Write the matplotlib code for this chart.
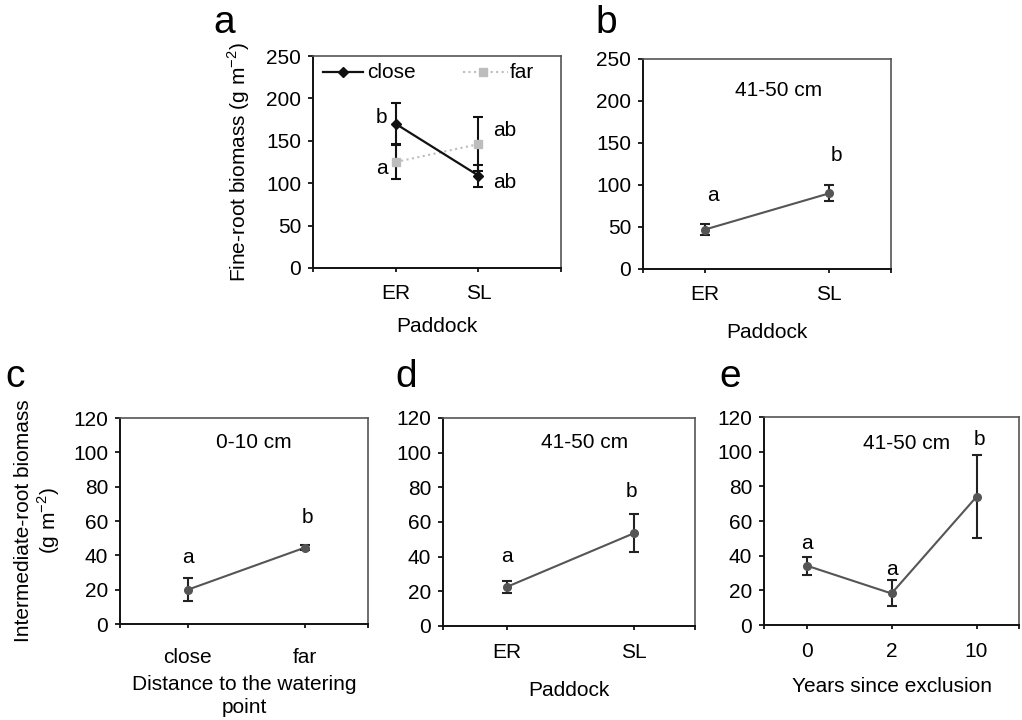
import matplotlib.pyplot as plt

plt.rcParams['font.family'] = ['Liberation Sans', 'DejaVu Sans']
plt.rcParams['font.size'] = 15

# panel a: fine roots, close vs far by paddock
paddock = ['ER', 'SL']
a_close = [170, 109]
a_close_err = [24, 13]
a_far = [125, 146]
a_far_err = [19.5, 32]

# panel b
b_vals = [47, 90]
b_err = [7, 9.5]

# panel c
distance = ['close', 'far']
c_vals = [20, 44.5]
c_err = [6.7, 1.5]

# panel d
d_vals = [22.5, 53.5]
d_err = [3.7, 11]

# panel e
years = ['0', '2', '10']
e_vals = [34.3, 18.2, 74]
e_err = [5.2, 7.5, 24]

line_col = '#555555'
err_col = '#222222'
unit = 'g m$^{\\mathregular{-2}}$'

fig = plt.figure(figsize=(10.22, 7.2), dpi=100)


def style(ax, ymax, ystep, xlim, cats, xpad=8.5):
    ax.set_ylim(0, ymax)
    ax.set_yticks(range(0, ymax + 1, ystep))
    ax.set_xlim(*xlim)
    pos = list(range(1, len(cats) + 1))
    ax.set_xticks([xlim[0]] + pos + [xlim[1]])
    ax.set_xticklabels([''] + cats + [''])
    ax.tick_params(axis='x', length=3, width=1.2, pad=xpad, direction='out')
    ax.tick_params(axis='y', length=3.5, width=1.2, pad=5, direction='out')
    for s in ['left', 'bottom']:
        ax.spines[s].set_linewidth(1.4)
        ax.spines[s].set_color('#111111')
    for s in ['top', 'right']:
        ax.spines[s].set_linewidth(1.2)
        ax.spines[s].set_color('#555555')


def simple(ax, vals, errs):
    x = list(range(1, len(vals) + 1))
    ax.plot(x, vals, color=line_col, lw=1.5, zorder=2)
    ax.errorbar(x, vals, yerr=errs, fmt='none', ecolor=err_col,
                elinewidth=1.5, capsize=3.5, capthick=1.5, zorder=3)
    ax.plot(x, vals, 'o', color=line_col, ms=5.5, zorder=4)


# ---- a ----
ax = fig.add_axes([0.3063, 0.6278, 0.2427, 0.2944])
x = [1, 2]
ax.errorbar(x, a_far, yerr=a_far_err, fmt='none', ecolor='#111111',
            elinewidth=1.5, capsize=3.5, capthick=1.5, zorder=2)
ax.errorbar(x, a_close, yerr=a_close_err, fmt='none', ecolor='#111111',
            elinewidth=1.5, capsize=3.5, capthick=1.5, zorder=2)
ax.plot(x, a_far, ls=':', color='#bdbdbd', lw=1.5, marker='s', ms=6,
        zorder=3)
ax.plot(x, a_close, ls='-', color='#111111', lw=1.6, marker='D', ms=5,
        zorder=4)
style(ax, 250, 50, (0, 3), paddock)
ax.set_ylabel('Fine-root biomass (' + unit + ')', labelpad=10)
ax.set_xlabel('Paddock', labelpad=10)
ax.text(0.83, 178, 'b', ha='center', va='center')
ax.text(0.83, 117, 'a', ha='center', va='center')
ax.text(2.32, 162, 'ab', ha='center', va='center')
ax.text(2.32, 101, 'ab', ha='center', va='center')
# legend drawn by hand, Excel style
ax.plot([0.12, 0.6], [231, 231], color='#111111', lw=1.6)
ax.plot([0.36], [231], 'D', color='#111111', ms=5)
ax.text(0.66, 231, 'close', va='center')
ax.plot([1.81, 2.36], [231, 231], ls=':', color='#bdbdbd', lw=1.5)
ax.plot([2.06], [231], 's', color='#bdbdbd', ms=6)
ax.text(2.38, 231, 'far', va='center')
fig.text(0.209, 0.954, 'a', fontsize=28, ha='left', va='baseline')

# ---- b ----
ax = fig.add_axes([0.6292, 0.6264, 0.2427, 0.2917])
simple(ax, b_vals, b_err)
style(ax, 250, 50, (0.5, 2.5), paddock)
ax.set_xlabel('Paddock', labelpad=14)
ax.text(1.59, 213, '41-50 cm', ha='center', va='center')
ax.text(1.06, 88, 'a', ha='center', va='center')
ax.text(2.06, 135, 'b', ha='center', va='center')
fig.text(0.583, 0.954, 'b', fontsize=28, ha='left', va='baseline')

# ---- c ----
ax = fig.add_axes([0.1174, 0.1333, 0.2427, 0.2861])
simple(ax, c_vals, c_err)
style(ax, 120, 20, (0.42, 2.54), distance, xpad=14)
ax.set_ylabel('Intermediate-root biomass\n(' + unit + ')', labelpad=8,
              linespacing=1.1)
ax.set_xlabel('Distance to the watering\npoint', labelpad=6,
              linespacing=1.3)
ax.text(1.56, 105.5, '0-10 cm', ha='center', va='center')
ax.text(1.0, 38.5, 'a', ha='center', va='center')
ax.text(2.02, 62, 'b', ha='center', va='center')
fig.text(0.005, 0.4625, 'c', fontsize=28, ha='left', va='baseline')

# ---- d ----
ax = fig.add_axes([0.4335, 0.1306, 0.2466, 0.2889])
simple(ax, d_vals, d_err)
style(ax, 120, 20, (0.5, 2.48), paddock, xpad=9)
ax.set_xlabel('Paddock', labelpad=14)
ax.text(1.61, 106, '41-50 cm', ha='center', va='center')
ax.text(1.0, 40, 'a', ha='center', va='center')
ax.text(1.98, 77.5, 'b', ha='center', va='center')
fig.text(0.3865, 0.4625, 'd', fontsize=28, ha='left', va='baseline')

# ---- e ----
ax = fig.add_axes([0.7476, 0.1319, 0.2495, 0.2889])
simple(ax, e_vals, e_err)
style(ax, 120, 20, (0.5, 3.5), years, xpad=9)
ax.set_xlabel('Years since exclusion', labelpad=12)
ax.text(2.18, 105, '41-50 cm', ha='center', va='center')
ax.text(1.0, 47, 'a', ha='center', va='center')
ax.text(2.0, 32, 'a', ha='center', va='center')
ax.text(3.03, 107, 'b', ha='center', va='center')
fig.text(0.7035, 0.4625, 'e', fontsize=28, ha='left', va='baseline')

fig.savefig('out.png', dpi=100, facecolor='white')
